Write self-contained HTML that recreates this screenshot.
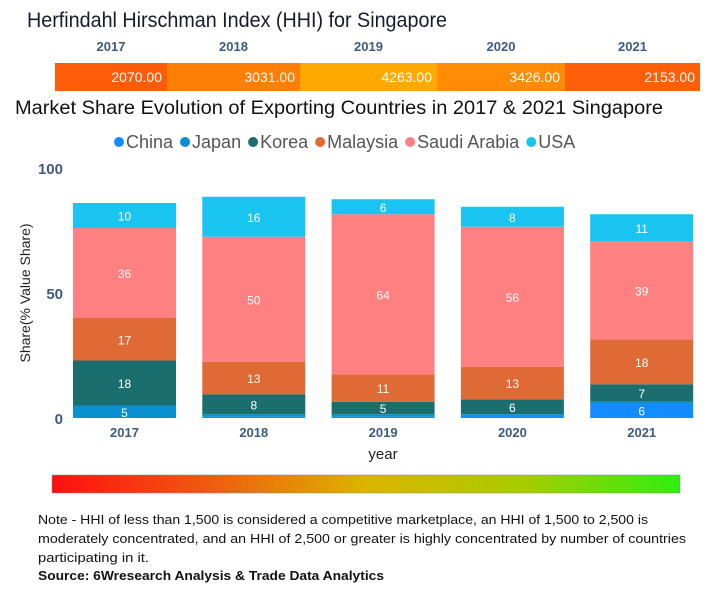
<!DOCTYPE html>
<html><head><meta charset="utf-8"><style>
body{margin:0;background:#fff;width:720px;height:600px;overflow:hidden;font-family:"Liberation Sans",sans-serif}
</style></head><body>
<svg width="720" height="600" style="display:block">
<defs><linearGradient id="g" x1="0" x2="1"><stop offset="0" stop-color="#ff1010"/><stop offset="0.25" stop-color="#f05a10"/><stop offset="0.5" stop-color="#dcb400"/><stop offset="0.75" stop-color="#a8cc00"/><stop offset="1" stop-color="#30ee10"/></linearGradient></defs>
<text x="27" y="27" font-size="21" fill="#1a1a2e" textLength="420" lengthAdjust="spacingAndGlyphs">Herfindahl Hirschman Index (HHI) for Singapore</text>
<g id="hhi"></g>
<text x="15" y="114" font-size="19" fill="#111" textLength="648" lengthAdjust="spacingAndGlyphs">Market Share Evolution of Exporting Countries in 2017 &amp; 2021 Singapore</text>
<g id="legend"></g>
<g id="axis"></g>
<text transform="translate(30,293) rotate(-90)" text-anchor="middle" font-size="14" fill="#222">Share(% Value Share)</text>
<g id="bars"></g>
<text x="383" y="459" text-anchor="middle" font-size="15" fill="#222">year</text>
<rect x="52" y="475" width="628" height="18" fill="url(#g)" stroke="#888" stroke-width="0.5"/>
<g font-size="13" fill="#111">
<text x="38" y="524" textLength="610" lengthAdjust="spacingAndGlyphs">Note - HHI of less than 1,500 is considered a competitive marketplace, an HHI of 1,500 to 2,500 is</text>
<text x="38" y="543" textLength="648" lengthAdjust="spacingAndGlyphs">moderately concentrated, and an HHI of 2,500 or greater is highly concentrated by number of countries</text>
<text x="38" y="562" textLength="111" lengthAdjust="spacingAndGlyphs">participating in it.</text>
<text x="38" y="580" font-weight="bold" textLength="346" lengthAdjust="spacingAndGlyphs">Source: 6Wresearch Analysis &amp; Trade Data Analytics</text>
</g>
</svg>
<script>
const years=["2017","2018","2019","2020","2021"];
const hhiValues=[2070,3031,4263,3426,2153];
const countries=["China","Japan","Korea","Malaysia","Saudi Arabia","USA"];
const china=[0,0.5,0.5,1.5,6];
const japan=[5,1,1,0,0.5];
const korea=[18,8,5,6,7];
const malaysia=[17,13,11,13,18];
const saudi=[36,50,64,56,39];
const usa=[10,16,6,8,11];
const yTicks=[0,50,100];
const NS="http://www.w3.org/2000/svg";
function mk(t,a,p){const e=document.createElementNS(NS,t);for(const k in a)e.setAttribute(k,a[k]);p.appendChild(e);return e;}
const colors=["#118DFF","#0A8FD0","#1B6E6E","#E06A36","#FF8080","#1AC4F0"];
const series=[china,japan,korea,malaysia,saudi,usa];
const hhiG=document.getElementById('hhi');
const hhiBounds=[55,167,300,437,565,700];
function hhiColor(v){const t=Math.min(1,Math.max(0,(v-2000)/2300));const g=Math.round(90+t*80);return `rgb(255,${g},${Math.round(10*(1-t))})`;}
years.forEach((y,i)=>{
 const x0=hhiBounds[i],x1=hhiBounds[i+1];
 const r=mk('rect',{x:x0,y:63,width:x1-x0,height:28,fill:hhiColor(hhiValues[i])},hhiG);
 
 
 const t=mk('text',{x:x1-5,y:82,'text-anchor':'end','font-size':14,fill:'#fff'},hhiG);t.textContent=hhiValues[i].toFixed(2);
 
 
 const l=mk('text',{x:(x0+x1)/2,y:51,'text-anchor':'middle','font-size':13,'font-weight':'bold',fill:'#3d5a80'},hhiG);l.textContent=y;
 
 
});
const lg=document.getElementById('legend');let lx=113;
countries.forEach((c,i)=>{
 const d=mk('circle',{cx:lx+6,cy:142,r:5,fill:colors[i]},lg);
 
 
 const t=mk('text',{x:lx+13,y:148,'font-size':18,fill:'#555'},lg);t.textContent=c;
 
 
 lx+=13+t.getComputedTextLength()+6;
});
const y0=418,ppu=2.5;const Y=v=>y0-v*ppu;
const ax=document.getElementById('axis');
yTicks.forEach(v=>{const t=mk('text',{x:63,y:Y(v)+6,'text-anchor':'end','font-size':15,'font-weight':'bold',fill:'#3d5a80'},ax);t.textContent=v;
 
 });
const bg=document.getElementById('bars');const bw=103,x0=73,pitch=129.3;
years.forEach((y,i)=>{
 const bx=x0+i*pitch;let cum=0;
 series.forEach((s,k)=>{
  const v=s[i];if(v<=0)return;
  const r=mk('rect',{x:bx,y:Y(cum+v),width:bw,height:v*ppu,fill:colors[k]},bg);
  
  
  if(v>=4){const t=mk('text',{x:bx+bw/2,y:Y(cum+v/2)+5,'text-anchor':'middle','font-size':12,fill:'#fff'},bg);t.textContent=Math.round(v);
   
   }
  cum+=v;
 });
 const l=mk('text',{x:bx+bw/2,y:437,'text-anchor':'middle','font-size':13,'font-weight':'bold',fill:'#3d5a80'},bg);l.textContent=y;
 
 
});
</script>
</body></html>
